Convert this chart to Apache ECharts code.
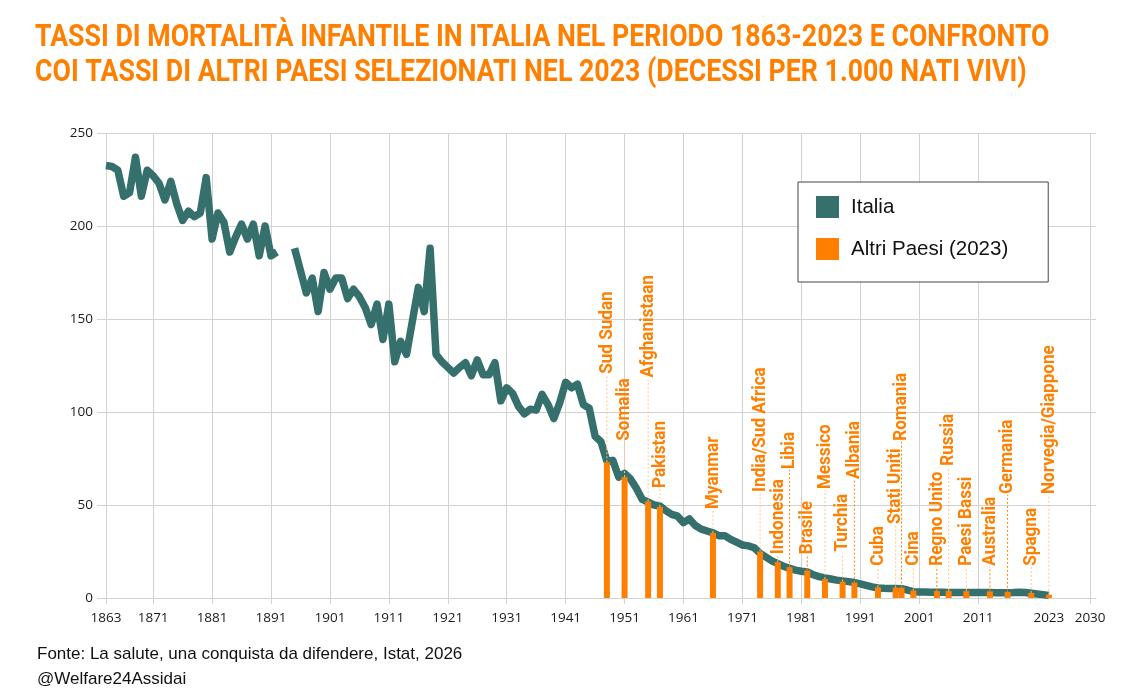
<!DOCTYPE html>
<html>
<head>
<meta charset="utf-8">
<script src="https://cdn.jsdelivr.net/npm/echarts@6/dist/echarts.min.js"></script>
<style>
html,body{margin:0;padding:0;background:#fff;}
#chart{width:1138px;height:695px;}
</style>
</head>
<body>
<div id="chart"></div>
<script>
// ---------------- DATA ----------------
const firstYear = 1863;
// Italia: deaths per 1,000 live births, one value per year 1863..2023 (null = no data)
const italia = [
  232.5, 232, 230, 216, 218, 237, 216, 230, 227, 223,   // 1863-1872
  214, 224, 212, 203, 208, 205, 207, 226, 193, 207,     // 1873-1882
  202, 186, 194, 201, 193, 201, 184, 200, 184, 186,     // 1883-1892
  null, null, 188, 176, 164, 172, 154, 175, 166, 172,   // 1893-1902
  172, 161, 166, 162, 156, 147, 158, 139, 158, 127,     // 1903-1912
  138, 131, 149, 167, 154, 188, 131, 127, 124, 121,     // 1913-1922
  124, 126.5, 119.5, 128, 120, 120, 126.5, 106, 113, 110, // 1923-1932
  103, 99, 101.5, 101, 109.5, 104, 96.5, 105, 116, 113, // 1933-1942
  115, 104, 102, 87, 84, 73.5, 74, 65, 67, 64,          // 1943-1952
  59, 53, 51.5, 50, 49.5, 47, 45, 44, 40.5, 42.5,       // 1953-1962
  39, 37, 36, 35, 33.5, 33.5, 31.5, 30, 28.5, 28,       // 1963-1972
  27, 24, 22, 20, 18.5, 17, 16, 15, 14.4, 14,           // 1973-1982
  12.5, 11.5, 10.8, 10.2, 9.6, 9.2, 8.8, 8.3, 7.6, 6.8, // 1983-1992
  6, 5.4, 5.2, 5.1, 5.1, 5.0, 4.3, 3.4, 3.2, 3.2,       // 1993-2002
  3.1, 3.1, 3.1, 3.0, 3.0, 3.0, 3.0, 2.9, 2.9, 2.9,     // 2003-2012
  2.9, 2.8, 2.8, 2.8, 2.9, 3.1, 3.0, 2.6, 2.2, 1.8,     // 2013-2022
  1.4                                                    // 2023
];

const countries = ['Sud Sudan','Somalia','Afghanistaan','Pakistan','Myanmar','India/Sud Africa',
  'Indonesia','Libia','Brasile','Messico','Turchia','Albania','Cuba','Stati Uniti','Romania',
  'Cina','Regno Unito','Russia','Paesi Bassi','Australia','Germania','Spagna','Norvegia/Giappone'];
// slot on the time axis where each country's bar is placed
const countrySlots = [1948,1951,1955,1957,1966,1974,1977,1979,1982,1985,1988,1990,1994,1997,1998,
  2000,2004,2006,2009,2013,2016,2020,2023];
// 2023 infant mortality rate of each country
const countryValues = [73,65,52,49,35,25,19.3,16.6,14.8,10.2,8.8,8.3,5.8,5.6,5.6,
  4.0,3.8,3.8,3.7,3.6,3.3,2.7,1.8];

const yTicks = [0, 50, 100, 150, 200, 250];
const xTickYears = [1863,1871,1881,1891,1901,1911,1921,1931,1941,1951,1961,1971,1981,1991,2001,2011,2030];
const xLabelYears = [1863,1871,1881,1891,1901,1911,1921,1931,1941,1951,1961,1971,1981,1991,2001,2011,2023,2030];

// ---------------- LAYOUT (label placement, in axis units) ----------------
const labelLevels = [120,84,118,58.6,47.3,56.5,23,68.8,23,58,24.4,63.4,16.8,39.2,84,
  16.8,16.8,70.6,16.8,16.8,55.4,16.8,55.4];
const darkLeaders = ['Libia','Brasile','Albania','Romania','Regno Unito','Australia','Germania'];

const TEAL = '#35706C';
const ORANGE = '#FF7F00';
const GRID = '#d2d2d2';

const italiaData = italia.map((v, i) => [firstYear + i, v]);
const countryData = countries.map((n, i) => [countrySlots[i], countryValues[i], labelLevels[i]]);

const chart = echarts.init(document.getElementById('chart'), null, {renderer: 'canvas'});

const option = {
  backgroundColor: '#fff',
  animation: false,
  grid: {left: 106, right: 42, top: 133, bottom: 97, containLabel: false},
  legend: {
    orient: 'vertical',
    left: 798, top: 182,
    padding: [14, 40, 22, 18],
    itemWidth: 23, itemHeight: 22, itemGap: 20,
    borderColor: '#444', borderWidth: 1, backgroundColor: '#fff',
    textStyle: {fontFamily: 'Liberation Sans, Arial, sans-serif', fontSize: 20.5, color: '#111', padding: [0,0,0,7]},
    data: [
      {name: 'Italia', icon: 'rect', itemStyle: {color: TEAL}},
      {name: 'Altri Paesi (2023)', icon: 'rect', itemStyle: {color: ORANGE}}
    ]
  },
  xAxis: {
    type: 'value', min: 1863, max: 2031,
    axisLine: {show: true, lineStyle: {color: GRID}},
    axisTick: {show: true, length: 6, lineStyle: {color: GRID}, customValues: xTickYears},
    splitLine: {show: true, lineStyle: {color: GRID, width: 1}},
    axisLabel: {customValues: xLabelYears, margin: 13, color: '#1a1a1a', fontFamily: 'Open Sans', fontSize: 13.5,
      formatter: v => String(v)}
  },
  yAxis: {
    type: 'value', min: 0, max: 250, interval: 50,
    axisLine: {show: false},
    axisTick: {show: true, length: 9, lineStyle: {color: GRID}},
    splitLine: {show: true, lineStyle: {color: GRID, width: 1}},
    axisLabel: {margin: 13, color: '#1a1a1a', fontFamily: 'Open Sans', fontSize: 13.5,
      customValues: yTicks}
  },
  graphic: [
    {type: 'text', x: 35, y: 38, scaleX: 0.876, z: 10,
      style: {text: 'TASSI DI MORTALITÀ INFANTILE IN ITALIA NEL PERIODO 1863-2023 E CONFRONTO',
        font: 'bold 30.5px Roboto', fill: ORANGE, verticalAlign: 'middle', align: 'left'}},
    {type: 'text', x: 35, y: 73, scaleX: 0.876, z: 10,
      style: {text: 'COI TASSI DI ALTRI PAESI SELEZIONATI NEL 2023 (DECESSI PER 1.000 NATI VIVI)',
        font: 'bold 30.5px Roboto', fill: ORANGE, verticalAlign: 'middle', align: 'left'}},
    {type: 'text', x: 37, y: 654, z: 10,
      style: {text: 'Fonte: La salute, una conquista da difendere, Istat, 2026',
        font: '17px "Liberation Sans", Arial, sans-serif', fill: '#111', verticalAlign: 'middle'}},
    {type: 'text', x: 37, y: 679, z: 10,
      style: {text: '@Welfare24Assidai',
        font: '17px "Liberation Sans", Arial, sans-serif', fill: '#111', verticalAlign: 'middle'}}
  ],
  series: [
    {
      name: 'Italia', type: 'line', data: italiaData, showSymbol: false, symbol: 'none',
      connectNulls: false, z: 2,
      lineStyle: {color: TEAL, width: 7.5, join: 'round'},
      itemStyle: {color: TEAL}
    },
    {
      name: 'Altri Paesi (2023)', type: 'custom', data: countryData, z: 4,
      itemStyle: {color: ORANGE},
      encode: {x: 0, y: 1},
      renderItem: function (params, api) {
        const i = params.dataIndex;
        const name = countries[i];
        const x = api.value(0), v = api.value(1), lv = api.value(2);
        const base = api.coord([x, 0]);
        const top = api.coord([x, v]);
        const lab = api.coord([x, lv]);
        const w = 6;
        const dark = darkLeaders.indexOf(name) >= 0;
        return {
          type: 'group',
          children: [
            {type: 'line', shape: {x1: top[0], y1: top[1], x2: lab[0], y2: lab[1]},
              style: {stroke: dark ? '#FF7F00' : '#FFC590', lineWidth: 1, lineDash: [2, 2]}},
            {type: 'rect', shape: {x: base[0] - w / 2, y: top[1], width: w, height: base[1] - top[1]},
              style: {fill: ORANGE}},
            {type: 'text', x: lab[0], y: lab[1] - 1, rotation: Math.PI / 2, scaleX: 0.9,
              style: {text: name, fill: ORANGE, font: 'bold 19px Roboto', align: 'left', verticalAlign: 'middle'}}
          ]
        };
      }
    }
  ]
};
chart.setOption(option);
</script>
</body>
</html>
